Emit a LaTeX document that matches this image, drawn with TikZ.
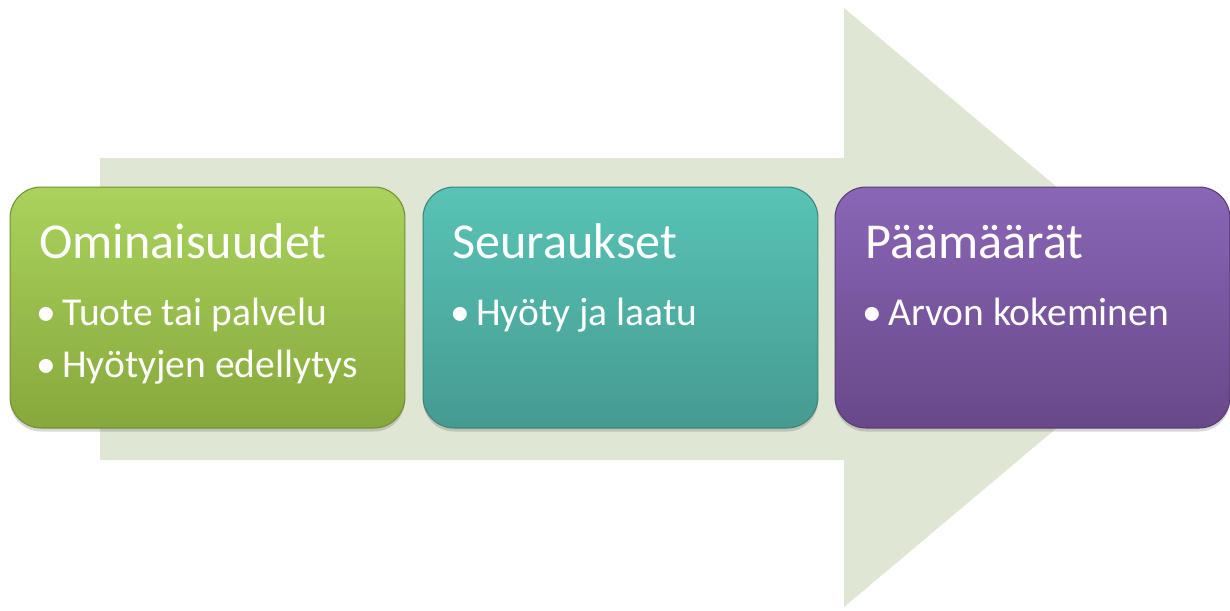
\documentclass[tikz,border=0pt]{standalone}
\usepackage{fontspec}
\setmainfont{Carlito}
\usetikzlibrary{positioning,shadows}

\definecolor{arrowbg}{HTML}{DFE6D3}
\definecolor{greentop}{HTML}{AAD25C}
\definecolor{greenbot}{HTML}{87A83C}
\definecolor{tealtop}{HTML}{58C4B6}
\definecolor{tealbot}{HTML}{469A91}
\definecolor{purptop}{HTML}{8A66B6}
\definecolor{purpbot}{HTML}{684889}

\begin{document}
\begin{tikzpicture}[x=0.02cm,y=-0.02cm,
  stagebox/.style={rounded corners=0.62cm,minimum width=7.9cm,minimum height=4.82cm,
    inner sep=0pt,line width=0.6pt,
    drop shadow={shadow xshift=0pt,shadow yshift=-2pt,opacity=0.22,fill=black!70}},
  title/.style={anchor=base west,inner sep=0pt,text=white,font=\fontsize{28.6}{34}\selectfont},
  item/.style={anchor=base west,inner sep=0pt,text=white,font=\fontsize{22.5}{27}\selectfont}]
\useasboundingbox (0,0) rectangle (1230,610);
% big background arrow
\fill[arrowbg] (100,158) -- (844,158) -- (844,8) -- (1200,307.5)
  -- (844,607) -- (844,460) -- (100,460) -- cycle;
% the three stages
\node[stagebox,top color=greentop,bottom color=greenbot,draw=greenbot!85!black] (omin) at (207.5,307.5) {};
\node[stagebox,top color=tealtop,bottom color=tealbot,draw=tealbot!85!black] (seur) at (620.5,307.5) {};
\node[stagebox,top color=purptop,bottom color=purpbot,draw=purpbot!85!black] (paam) at (1032.5,307.5) {};
% texts
\node[title] (ominT) at (39,258) {Ominaisuudet};
\node[item] (omin1) at (36,325) {\textbullet\kern3.5pt Tuote tai palvelu};
\node[item] (omin2) at (36,377) {\textbullet\kern3.5pt Hyötyjen edellytys};
\node[title] (seurT) at (452,258) {Seuraukset};
\node[item] (seur1) at (450,325) {\textbullet\kern3.5pt Hyöty ja laatu};
\node[title] (paamT) at (865,258) {Päämäärät};
\node[item] (paam1) at (862,325) {\textbullet\kern3.5pt Arvon kokeminen};
\end{tikzpicture}
\end{document}
